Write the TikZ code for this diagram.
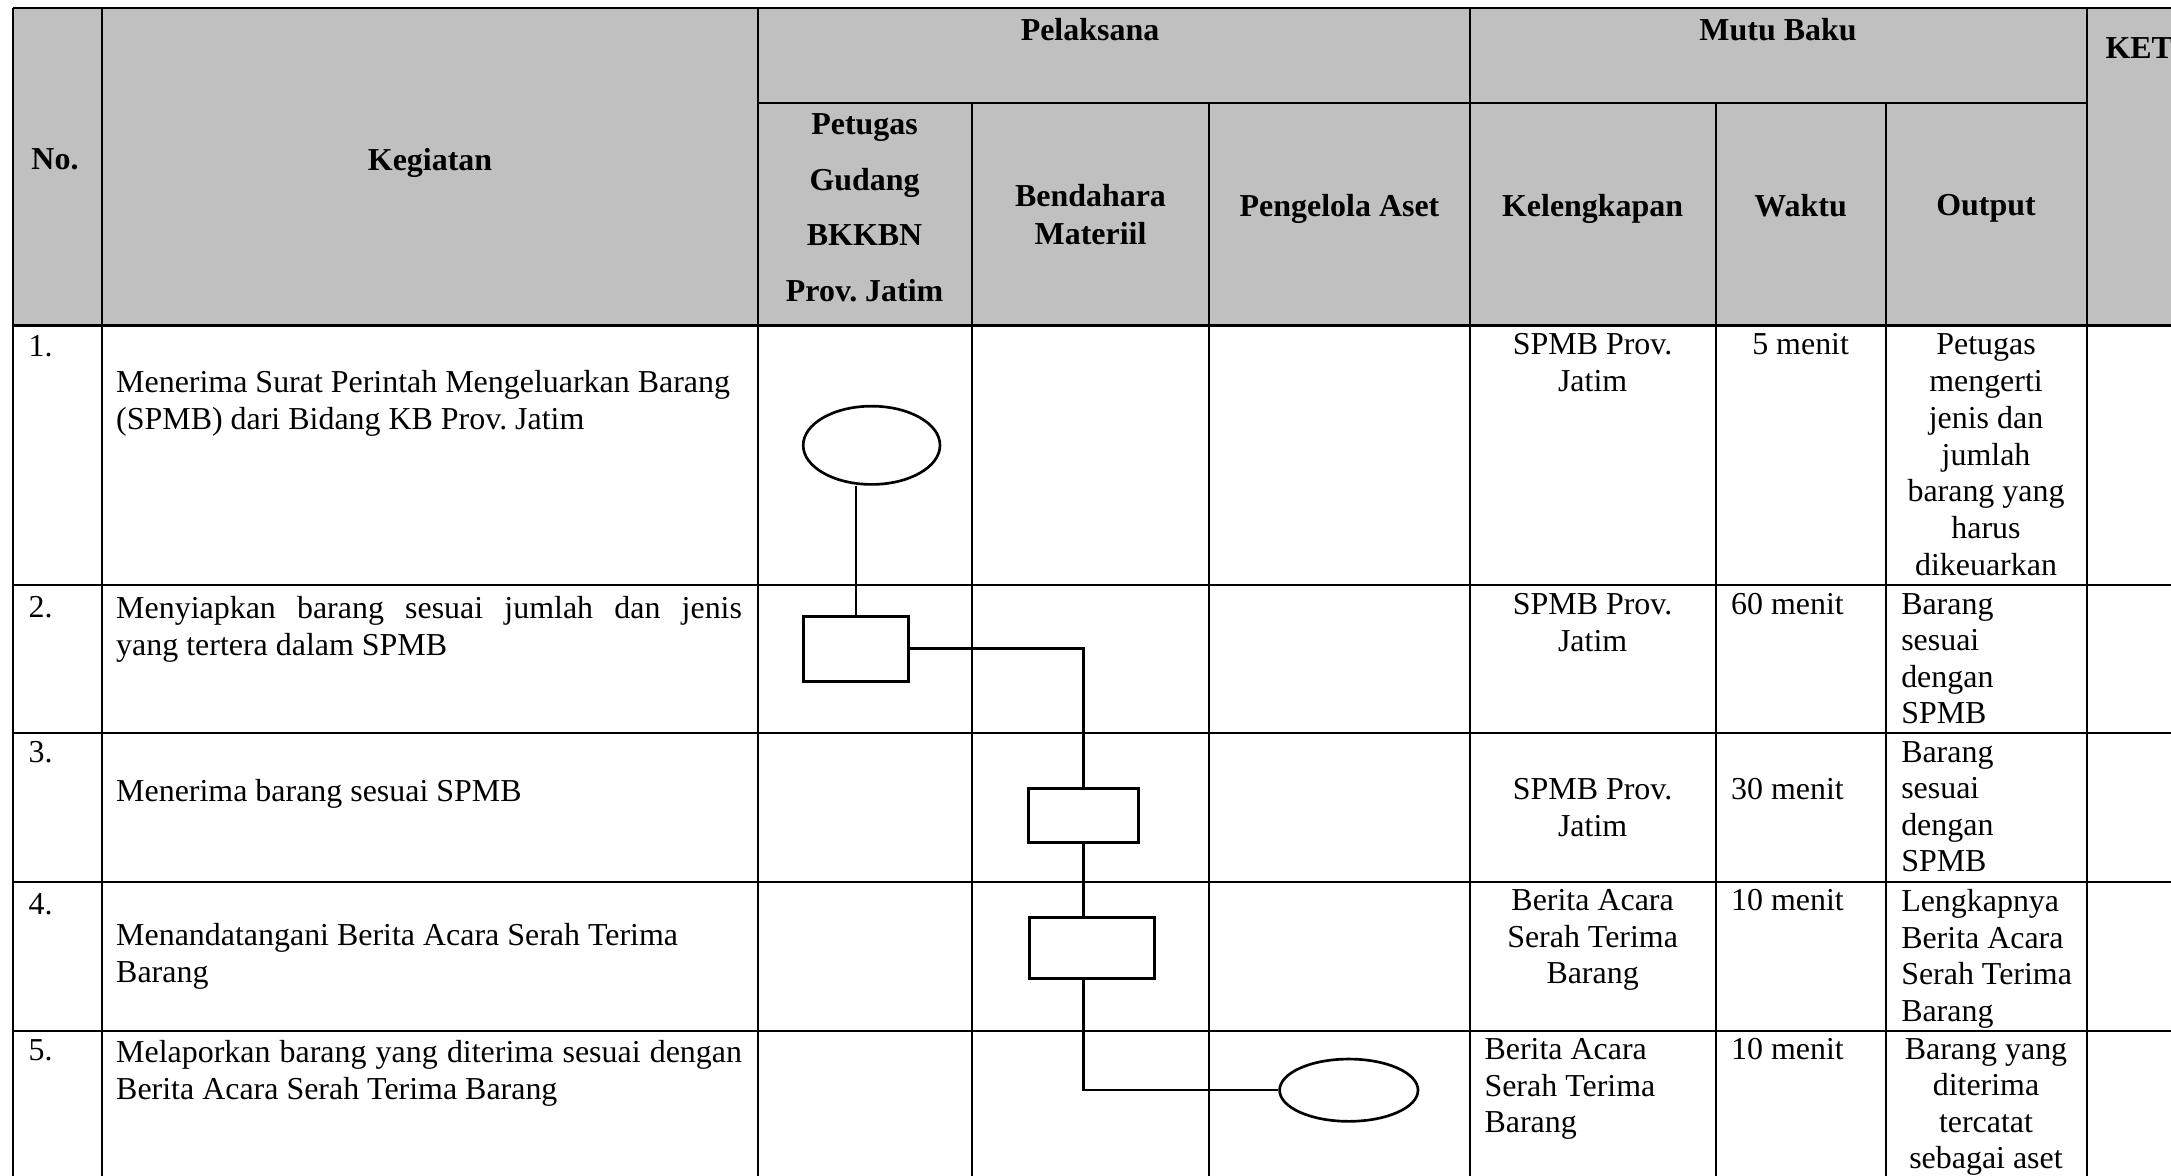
\documentclass[tikz,border=0pt]{standalone}
\usepackage{fontspec}
\setmainfont{Liberation Serif}
\usetikzlibrary{shapes.geometric}
\definecolor{hdrgray}{HTML}{C0C0C0}

\begin{document}
\frenchspacing
\hyphenpenalty=10000
\tolerance=10000
\begin{tikzpicture}[
    x=0.3757pt, y=-0.3757pt,
    font=\fontsize{12pt}{13.7pt}\selectfont,
    grid_line/.style={line width=0.75pt},
    head_line/.style={line width=1.1pt},
    head_text/.style={font=\fontsize{12pt}{13.7pt}\selectfont\bfseries, inner sep=0pt, anchor=north, align=center},
    cell_text/.style={inner sep=0pt, anchor=north west, align=left},
    cell_mid/.style={inner sep=0pt, anchor=north, align=center},
    keg_just/.style={cell_text, text width=235.1pt, align=justify},
    terminal/.style={ellipse, draw, line width=1pt, inner sep=0pt},
    process/.style={rectangle, draw, line width=1.1pt, inner sep=0pt},
    flow/.style={line width=0.9pt}
]
\useasboundingbox (0,0) rectangle (2171,1176);

% Header Part
\fill[hdrgray] (12.6,8.3) rectangle (2171,325.7);
\foreach \x in {12.6,101.7,757.6,1469.6,2086.6}
    \draw[grid_line] (\x,8.3) -- (\x,1176);
\foreach \x in {971.6,1209.4,1715.6,1885.7}
    \draw[grid_line] (\x,103.3) -- (\x,1176);
\draw[grid_line] (12.6,8.3) -- (2171,8.3);
\draw[grid_line] (757.6,103.3) -- (2086.6,103.3);
\draw[head_line] (12.6,325.7) -- (2171,325.7);
\foreach \y in {585,732.7,881.7,1030.7}
    \draw[grid_line] (12.6,\y) -- (2171,\y);

\node[head_text] (hNo) at (55,148) {No.};
\node[head_text] (hKeg) at (430,148) {Kegiatan};
\node[head_text] (hPel) at (1090,18) {Pelaksana};
\node[head_text] (hMutu) at (1778,18) {Mutu Baku};
\node[head_text, anchor=north west] (hKet) at (2105,37) {KET};
\node[head_text, font=\fontsize{12pt}{20.9pt}\selectfont\bfseries] (hPetugas) at (864.6,113) {Petugas\\Gudang\\BKKBN\\Prov. Jatim};
\node[head_text, font=\fontsize{12pt}{14.3pt}\selectfont\bfseries] (hBend) at (1090.5,184) {Bendahara\\Materiil};
\node[head_text] (hAset) at (1339.5,194) {Pengelola Aset};
\node[head_text] (hKel) at (1592.6,194) {Kelengkapan};
\node[head_text] (hWaktu) at (1800.6,194) {Waktu};
\node[head_text] (hOut) at (1986,194) {Output};

% Row numbers and Kegiatan
\node[cell_text] (no1) at (28,335) {1.};
\node[cell_text] (no2) at (28,596) {2.};
\node[cell_text] (no3) at (28,741) {3.};
\node[cell_text] (no4) at (28,893) {4.};
\node[cell_text] (no5) at (28,1039) {5.};

\node[cell_text] (keg1) at (115.7,370) {Menerima Surat Perintah Mengeluarkan Barang\\(SPMB) dari Bidang KB Prov. Jatim};
\node[keg_just] (keg2) at (115.7,596) {Menyiapkan barang sesuai jumlah dan jenis\linebreak yang tertera dalam SPMB};
\node[cell_text] (keg3) at (115.7,779) {Menerima barang sesuai SPMB};
\node[cell_text] (keg4) at (115.7,923) {Menandatangani Berita Acara Serah Terima\\Barang};
\node[keg_just] (keg5) at (115.7,1040) {Melaporkan barang yang diterima sesuai dengan\linebreak Berita Acara Serah Terima Barang};

% Mutu Baku Part
\node[cell_mid] (kel1) at (1592.6,333) {SPMB Prov.\\Jatim};
\node[cell_mid] (kel2) at (1592.6,593) {SPMB Prov.\\Jatim};
\node[cell_mid] (kel3) at (1592.6,778) {SPMB Prov.\\Jatim};
\node[cell_mid] (kel4) at (1592.6,889) {Berita Acara\\Serah Terima\\Barang};
\node[cell_text] (kel5) at (1484,1038) {Berita Acara\\Serah Terima\\Barang};

\node[cell_mid] (wkt1) at (1800.6,333) {5 menit};
\node[cell_text] (wkt2) at (1730.6,593) {60 menit};
\node[cell_text] (wkt3) at (1730.6,778) {30 menit};
\node[cell_text] (wkt4) at (1730.6,889) {10 menit};
\node[cell_text] (wkt5) at (1730.6,1038) {10 menit};

\node[cell_mid, font=\fontsize{12pt}{13.85pt}\selectfont] (out1) at (1986,333) {Petugas\\mengerti\\jenis dan\\jumlah\\barang yang\\harus\\dikeuarkan};
\node[cell_text] (out2) at (1900.7,593) {Barang\\sesuai\\dengan\\SPMB};
\node[cell_text] (out3) at (1900.7,741) {Barang\\sesuai\\dengan\\SPMB};
\node[cell_text] (out4) at (1900.7,889) {Lengkapnya\\Berita Acara\\Serah Terima\\Barang};
\node[cell_mid] (out5) at (1986,1038) {Barang yang\\diterima\\tercatat\\sebagai aset};

% Flow Part
\node[terminal, minimum width=51.4pt, minimum height=29.4pt] (start1) at (871.6,445.3) {};
\node[process, minimum width=39.4pt, minimum height=24.4pt] (proc2) at (855.8,648.7) {};
\node[process, minimum width=41.1pt, minimum height=20.3pt] (proc3) at (1083.5,815.2) {};
\node[process, minimum width=47pt, minimum height=23.2pt] (proc4) at (1091.7,948) {};
\node[terminal, minimum width=52pt, minimum height=23.4pt] (end5) at (1348.8,1090.2) {};

\draw[flow] (start1.south -| proc2.north) -- (proc2.north);
\draw[flow] (proc2.east) -| (proc3.north);
\draw[flow] (proc3.south) -- (proc3.south |- proc4.north);
\draw[flow] (proc3.south |- proc4.south) |- (end5.west);

\end{tikzpicture}
\end{document}
